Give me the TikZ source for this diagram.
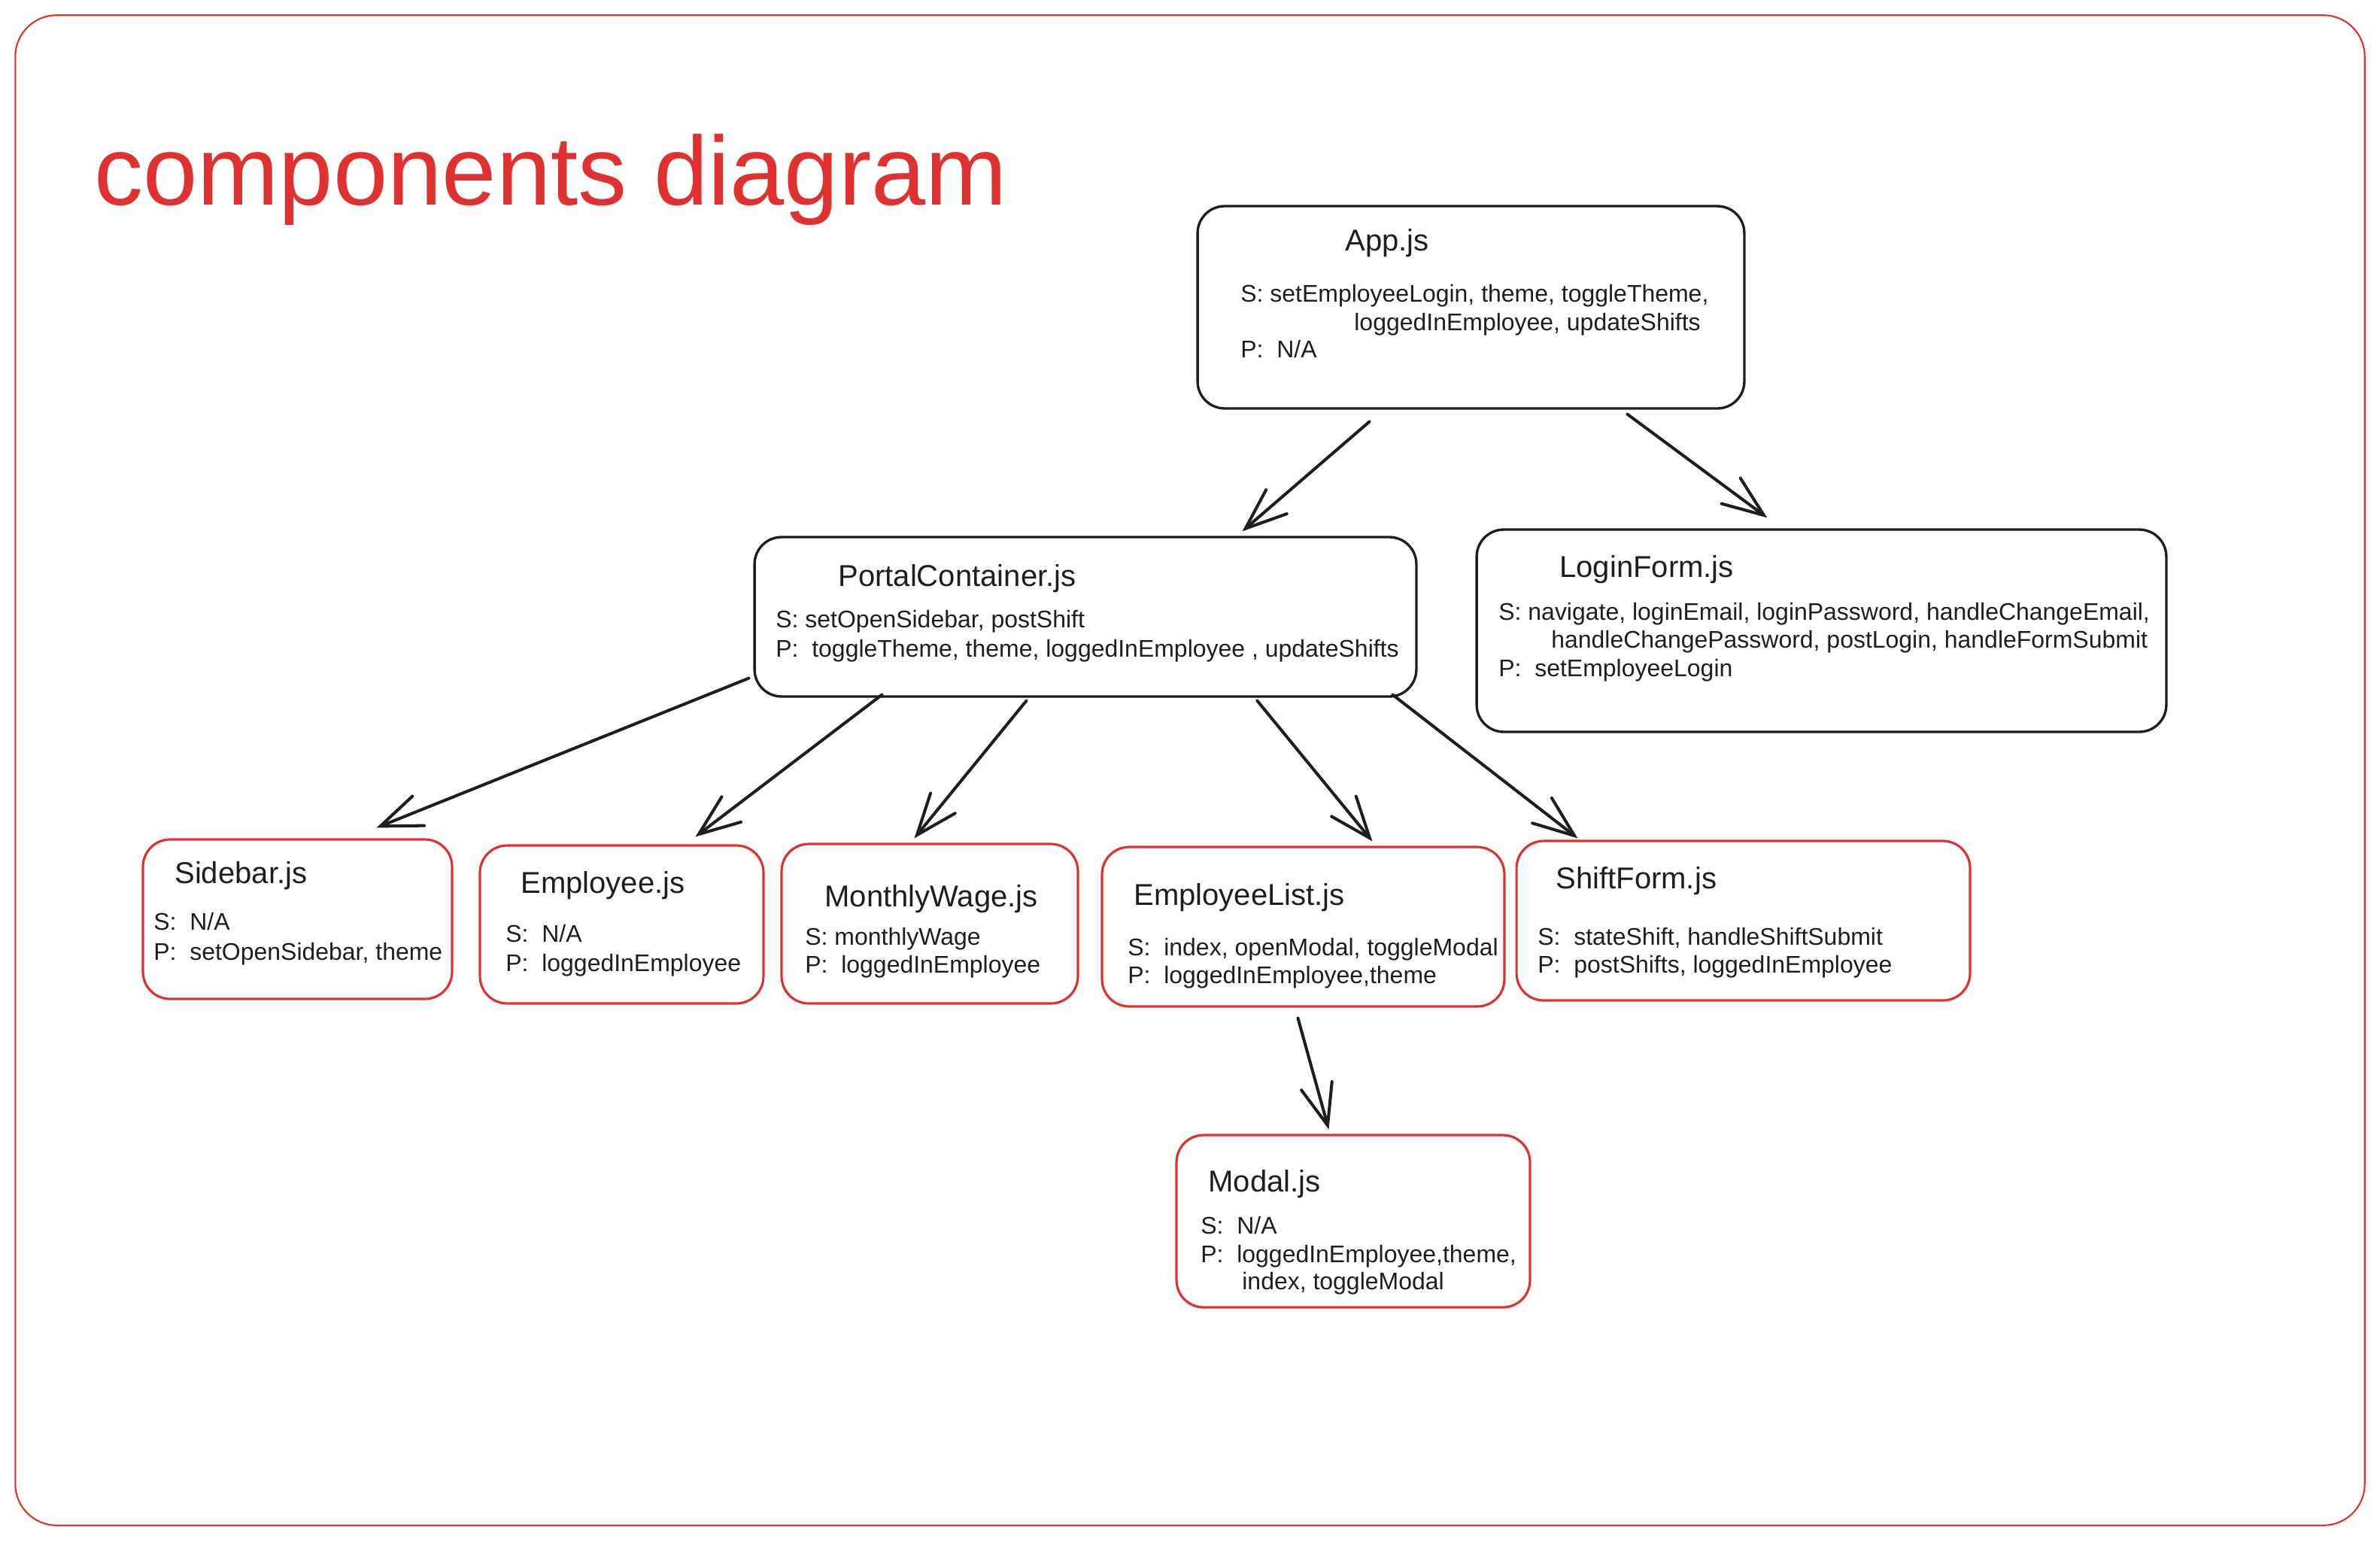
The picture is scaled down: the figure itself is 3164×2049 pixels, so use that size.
\documentclass[tikz,border=0pt]{standalone}
\usepackage{fontspec}
\setmainfont{Liberation Sans}
\usetikzlibrary{arrows.meta,calc}
\definecolor{exred}{HTML}{E03131}
\definecolor{exblack}{HTML}{1E1E1E}
\begin{document}
\begin{tikzpicture}[x=0.02cm,y=-0.02cm,
  bbox/.style={draw=exblack, line width=1.9pt, rounded corners=0.72cm, inner sep=0},
  rbox/.style={draw=exred, line width=1.8pt, rounded corners=0.72cm, inner sep=0},
  ttl/.style={anchor=base west, inner sep=0, font=\fontsize{22.8}{26}\selectfont, text=exblack},
  txt/.style={anchor=base west, inner sep=0, font=\fontsize{18.2}{21}\selectfont, text=exblack},
  conn/.style={draw=exblack, line width=2.3pt, line cap=round, -{Straight Barb[length=31pt,width=24pt,line cap=round]}}
]
\useasboundingbox (0,0) rectangle (3164,2049);
\node[draw=exred, line width=1.2pt, rounded corners=1.1cm, minimum width=62.48cm, minimum height=40.16cm, inner sep=0] (frame) at (1582,1024) {};
\node[anchor=base west, inner sep=0, text=exred, font=\fontsize{74}{80}\selectfont] (heading) at (125,272) {components diagram};

% boxes
\node[bbox, minimum width=14.54cm, minimum height=5.38cm] (app) at (1955.5,408.5) {};
\node[bbox, minimum width=17.6cm, minimum height=4.24cm] (portal) at (1443,820) {};
\node[bbox, minimum width=18.34cm, minimum height=5.38cm] (login) at (2421.5,838.5) {};
\node[rbox, minimum width=8.22cm, minimum height=4.24cm] (sidebar) at (395.5,1222) {};
\node[rbox, minimum width=7.54cm, minimum height=4.2cm] (employee) at (826.5,1229) {};
\node[rbox, minimum width=7.88cm, minimum height=4.24cm] (wage) at (1236,1228) {};
\node[rbox, minimum width=10.7cm, minimum height=4.24cm] (elist) at (1732.5,1232) {};
\node[rbox, minimum width=12.06cm, minimum height=4.24cm] (shift) at (2317.5,1224) {};
\node[rbox, minimum width=9.4cm, minimum height=4.58cm] (modal) at (1799,1623.5) {};

% App.js
\node[ttl] (app-t) at (1788,333) {App.js};
\node[txt] (app-s) at (1649,401) {S: setEmployeeLogin, theme, toggleTheme,};
\node[txt] (app-s2) at (1800,439) {loggedInEmployee, updateShifts};
\node[txt] (app-p) at (1649,475) {P:\ \ N/A};

% PortalContainer.js
\node[ttl] (portal-t) at (1114,779) {PortalContainer.js};
\node[txt] (portal-s) at (1031,834) {S: setOpenSidebar, postShift};
\node[txt] (portal-p) at (1031,873) {P:\ \ toggleTheme, theme, loggedInEmployee , updateShifts};

% LoginForm.js
\node[ttl] (login-t) at (2073,767) {LoginForm.js};
\node[txt] (login-s) at (1992,824) {S: navigate, loginEmail, loginPassword, handleChangeEmail,};
\node[txt] (login-s2) at (2062,861) {handleChangePassword, postLogin, handleFormSubmit};
\node[txt] (login-p) at (1992,899) {P:\ \ setEmployeeLogin};

% Sidebar.js
\node[ttl] (sidebar-t) at (232,1174) {Sidebar.js};
\node[txt] (sidebar-s) at (204,1236) {S:\ \ N/A};
\node[txt] (sidebar-p) at (204,1276) {P:\ \ setOpenSidebar, theme};

% Employee.js
\node[ttl] (employee-t) at (692,1187) {Employee.js};
\node[txt] (employee-s) at (672,1252) {S:\ \ N/A};
\node[txt] (employee-p) at (672,1291) {P:\ \ loggedInEmployee};

% MonthlyWage.js
\node[ttl] (wage-t) at (1096,1205) {MonthlyWage.js};
\node[txt] (wage-s) at (1070,1256) {S: monthlyWage};
\node[txt] (wage-p) at (1070,1293) {P:\ \ loggedInEmployee};

% EmployeeList.js
\node[ttl] (elist-t) at (1507,1203) {EmployeeList.js};
\node[txt] (elist-s) at (1499,1270) {S:\ \ index, openModal, toggleModal};
\node[txt] (elist-p) at (1499,1307) {P:\ \ loggedInEmployee,theme};

% ShiftForm.js
\node[ttl] (shift-t) at (2068,1181) {ShiftForm.js};
\node[txt] (shift-s) at (2044,1256) {S:\ \ stateShift, handleShiftSubmit};
\node[txt] (shift-p) at (2044,1293) {P:\ \ postShifts, loggedInEmployee};

% Modal.js
\node[ttl] (modal-t) at (1606,1584) {Modal.js};
\node[txt] (modal-s) at (1596,1640) {S:\ \ N/A};
\node[txt] (modal-p) at (1596,1678) {P:\ \ loggedInEmployee,theme,};
\node[txt] (modal-p2) at (1651,1714) {index, toggleModal};

% connectors
\draw[conn] ($(app.south west)+(230,16)$) -- ($(portal.north west)+(650,-6)$);
\draw[conn] ($(app.south west)+(573,6)$) -- ($(login.north west)+(388,-14)$);
\draw[conn] ($(portal.south west)+(-6,-26)$) -- ($(sidebar.north west)+(312,-14)$);
\draw[conn] ($(portal.south west)+(171,-4)$) -- ($(employee.north west)+(288,-10)$);
\draw[conn] ($(portal.south west)+(363,4)$) -- ($(wage.north west)+(178,-6)$);
\draw[conn] ($(portal.south west)+(670,4)$) -- ($(elist.north west)+(361,-6)$);
\draw[conn] ($(portal.south west)+(850,-4)$) -- ($(shift.north west)+(83,-2)$);
\draw[conn] ($(elist.south west)+(262,14)$) -- ($(modal.north west)+(204,-6)$);
\end{tikzpicture}
\end{document}
